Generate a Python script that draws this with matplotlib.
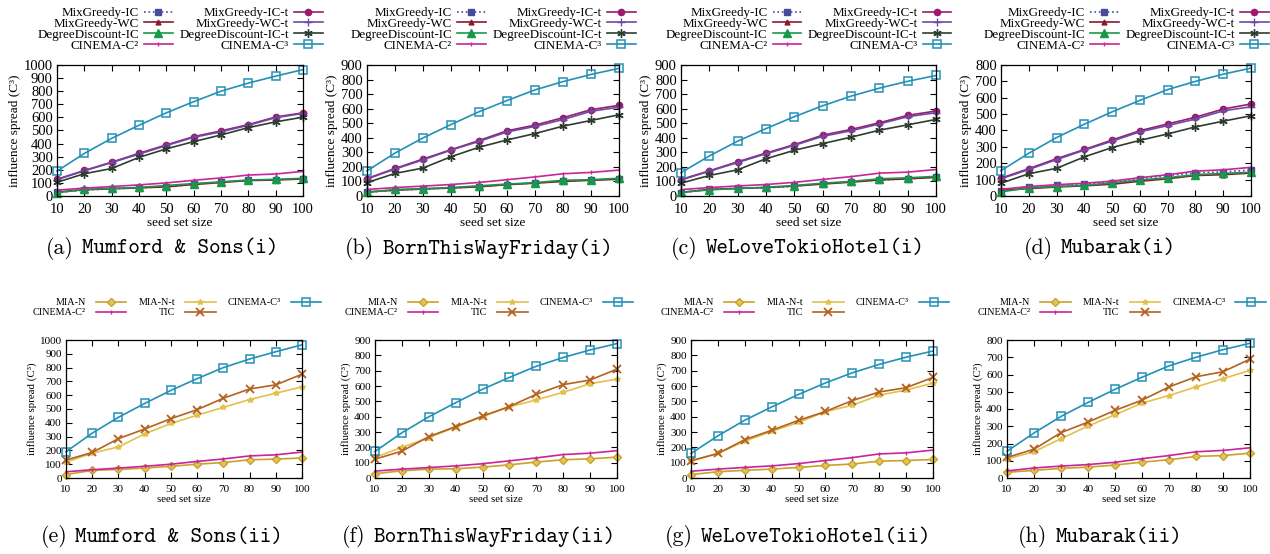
import os
import numpy as np
import matplotlib
matplotlib.use('Agg')
import matplotlib.pyplot as plt
from matplotlib.font_manager import FontProperties

plt.rcParams.update({
    'font.family': ['Liberation Serif', 'DejaVu Serif'],
    'axes.linewidth': 0.9,
    'lines.linewidth': 1.2,
})

seeds = [10, 20, 30, 40, 50, 60, 70, 80, 90, 100]

# shared CINEMA curves (same in (i) and (ii))
mumford_c2 = [45, 60, 72, 85, 100, 120, 138, 160, 168, 188]
mumford_c3 = [190, 325, 440, 540, 635, 720, 800, 862, 915, 965]
born_c2 = [45, 58, 68, 79, 93, 112, 131, 153, 162, 178]
born_c3 = [173, 295, 399, 491, 579, 656, 729, 786, 835, 877]
tokio_c2 = [44, 58, 69, 79, 94, 114, 133, 157, 164, 182]
tokio_c3 = [160, 275, 377, 463, 545, 620, 686, 741, 788, 828]
mubarak_c2 = [41, 58, 69, 78, 91, 112, 130, 152, 160, 175]
mubarak_c3 = [155, 261, 357, 438, 514, 584, 650, 700, 744, 781]

# (i) baselines
mumford_mg_ic = [28, 45, 55, 62, 72, 88, 105, 120, 125, 133]
mumford_mg_wc = [30, 48, 55, 62, 70, 88, 103, 118, 122, 130]
mumford_dd_ic = [25, 50, 58, 65, 80, 95, 108, 122, 127, 135]
mumford_mg_ic_t = [128, 195, 258, 326, 390, 453, 497, 545, 603, 635]
mumford_mg_wc_t = [125, 192, 255, 320, 385, 448, 490, 540, 598, 630]
mumford_dd_ic_t = [105, 170, 210, 295, 360, 415, 466, 522, 566, 602]

born_mg_ic = [25, 40, 48, 55, 65, 78, 90, 102, 110, 118]
born_mg_wc = [28, 40, 48, 55, 63, 78, 88, 100, 108, 115]
born_dd_ic = [25, 45, 50, 58, 70, 82, 92, 108, 112, 122]
born_mg_ic_t = [120, 189, 254, 318, 381, 448, 487, 538, 593, 623]
born_mg_wc_t = [117, 185, 248, 315, 375, 440, 478, 525, 582, 610]
born_dd_ic_t = [92, 155, 192, 270, 335, 385, 429, 480, 519, 558]

tokio_mg_ic = [22, 48, 52, 55, 68, 85, 98, 110, 118, 130]
tokio_mg_wc = [25, 45, 52, 58, 68, 82, 95, 110, 118, 128]
tokio_dd_ic = [25, 42, 52, 60, 72, 88, 100, 118, 125, 135]
tokio_mg_ic_t = [113, 173, 235, 295, 353, 418, 457, 503, 554, 584]
tokio_mg_wc_t = [110, 170, 230, 290, 348, 410, 448, 495, 545, 572]
tokio_dd_ic_t = [88, 141, 180, 256, 314, 360, 404, 452, 489, 526]

mubarak_mg_ic = [30, 52, 65, 75, 82, 105, 125, 140, 148, 158]
mubarak_mg_wc = [35, 45, 55, 62, 72, 90, 105, 125, 130, 140]
mubarak_dd_ic = [25, 50, 58, 65, 80, 98, 112, 130, 138, 145]
mubarak_mg_ic_t = [109, 167, 228, 284, 342, 399, 440, 481, 531, 562]
mubarak_mg_wc_t = [105, 162, 222, 280, 335, 392, 430, 470, 520, 545]
mubarak_dd_ic_t = [78, 136, 169, 239, 296, 340, 379, 422, 457, 490]

# (ii) baselines
mumford_mia = [25, 55, 62, 72, 85, 100, 112, 132, 137, 145]
mumford_mia_t = [115, 180, 225, 320, 395, 455, 512, 568, 615, 660]
mumford_tic = [130, 185, 285, 355, 430, 495, 578, 645, 675, 752]

born_mia = [28, 47, 58, 60, 71, 86, 104, 119, 125, 136]
born_mia_t = [134, 200, 263, 332, 401, 464, 509, 559, 615, 645]
born_tic = [123, 175, 270, 335, 404, 466, 546, 609, 639, 710]

tokio_mia = [22, 41, 50, 58, 69, 82, 91, 110, 114, 121]
tokio_mia_t = [112, 160, 240, 304, 363, 432, 475, 540, 574, 619]
tokio_tic = [112, 160, 250, 311, 376, 434, 505, 561, 589, 656]

mubarak_mia = [33, 44, 56, 63, 75, 92, 106, 125, 130, 144]
mubarak_mia_t = [111, 152, 228, 301, 367, 434, 478, 528, 576, 624]
mubarak_tic = [119, 167, 263, 324, 392, 451, 528, 587, 616, 689]

names = ['Mumford & Sons', 'BornThisWayFriday', 'WeLoveTokioHotel', 'Mubarak']
ymaxs = [1000, 900, 900, 800]

top_data = [
    [mumford_mg_ic, mumford_mg_wc, mumford_dd_ic, mumford_c2,
     mumford_mg_ic_t, mumford_mg_wc_t, mumford_dd_ic_t, mumford_c3],
    [born_mg_ic, born_mg_wc, born_dd_ic, born_c2,
     born_mg_ic_t, born_mg_wc_t, born_dd_ic_t, born_c3],
    [tokio_mg_ic, tokio_mg_wc, tokio_dd_ic, tokio_c2,
     tokio_mg_ic_t, tokio_mg_wc_t, tokio_dd_ic_t, tokio_c3],
    [mubarak_mg_ic, mubarak_mg_wc, mubarak_dd_ic, mubarak_c2,
     mubarak_mg_ic_t, mubarak_mg_wc_t, mubarak_dd_ic_t, mubarak_c3],
]
bottom_data = [
    [mumford_mia, mumford_c2, mumford_mia_t, mumford_tic, mumford_c3],
    [born_mia, born_c2, born_mia_t, born_tic, born_c3],
    [tokio_mia, tokio_c2, tokio_mia_t, tokio_tic, tokio_c3],
    [mubarak_mia, mubarak_c2, mubarak_mia_t, mubarak_tic, mubarak_c3],
]

C2_COL = '#c8249c'
C3_COL = '#2390b6'
top_styles = [
    ('MixGreedy-IC', dict(color='#4a4a9c', ls=':', marker='s', ms=4.5)),
    ('MixGreedy-WC', dict(color='#8b1a2e', marker='^', ms=3.5)),
    ('DegreeDiscount-IC', dict(color='#16994a', marker='^', ms=5.5)),
    ('CINEMA-C²', dict(color=C2_COL, marker='|', ms=3)),
    ('MixGreedy-IC-t', dict(color='#9a1a6e', marker='o', ms=4.5)),
    ('MixGreedy-WC-t', dict(color='#6f4aa5', marker='+', ms=6)),
    ('DegreeDiscount-IC-t', dict(color='#2e3d30', marker=(6, 2, 0), ms=6)),
    ('CINEMA-C³', dict(color=C3_COL, marker='s', ms=6, mfc='none', mew=1.1)),
]
bottom_styles = [
    ('MIA-N', dict(color='#c9a227', marker='D', ms=4, mfc='#e2c55a')),
    ('CINEMA-C²', dict(color=C2_COL, marker='|', ms=3)),
    ('MIA-N-t', dict(color='#e3c04a', marker='*', ms=4)),
    ('TIC', dict(color='#b3621f', marker='x', ms=5.5, mew=1.3)),
    ('CINEMA-C³', dict(color=C3_COL, marker='s', ms=6, mfc='none', mew=1.1)),
]

W, H = 1270, 554
fig = plt.figure(figsize=(W / 100, H / 100), dpi=100)
renderer = fig.canvas.get_renderer()

ttf_dir = os.path.join(matplotlib.get_data_path(), 'fonts', 'ttf')
roman_fp = FontProperties(fname=os.path.join(ttf_dir, 'cmr10.ttf'), size=15.8)
tt_fp = FontProperties(fname=os.path.join(ttf_dir, 'cmtt10.ttf'), size=15.8)

top_boxes = [(57, 303), (367, 619), (681, 936), (1001, 1251)]
bot_boxes = [(66, 302), (375, 617), (691, 933), (1007, 1250)]
cap_x = [162, 479, 798, 1100]
letters_top = 'abcd'
letters_bot = 'efgh'


def setup(ax, ymax, tick_fs, lab_fs):
    ax.set_xlim(10, 100)
    ax.set_ylim(0, ymax)
    ax.set_xticks(seeds)
    ax.set_yticks(np.arange(0, ymax + 1, 100))
    ax.tick_params(direction='in', top=True, right=True, length=4,
                   width=0.8, labelsize=tick_fs, pad=3)
    ax.tick_params(axis='x', pad=5)
    ax.set_xlabel('seed set size', fontsize=lab_fs, labelpad=1)
    ax.set_ylabel('influence spread (C³)', fontsize=lab_fs, labelpad=2)


def caption(xc, yc, letter, name, suffix):
    # "(a)" in roman, dataset name in typewriter, centred together
    t1 = fig.text(0, 1 - yc / H, '(%s)' % letter, ha='left',
                  va='center', fontproperties=roman_fp)
    t2 = fig.text(0, 1 - yc / H, '%s(%s)' % (name, suffix), ha='left',
                  va='center', fontproperties=tt_fp)
    w1 = t1.get_window_extent(renderer).width
    w2 = t2.get_window_extent(renderer).width
    gap = 8
    x0 = xc - (w1 + gap + w2) / 2
    t1.set_x(x0 / W)
    t2.set_x((x0 + w1 + gap) / W)


for i in range(4):
    l, r = top_boxes[i]
    ax = fig.add_axes([l / W, 1 - 196 / H, (r - l) / W, 131 / H])
    for (label, st), ys in zip(top_styles, top_data[i]):
        ax.plot(seeds, ys, label=label, clip_on=False, **st)
    setup(ax, ymaxs[i], 10.5, 9.5)
    cx = (l + r) / 2
    ax.legend(loc='upper center', bbox_to_anchor=(cx / W, 1 - 7 / H),
              bbox_transform=fig.transFigure, ncol=2, markerfirst=False,
              frameon=False, fontsize=9.4, handlelength=2.2,
              handletextpad=0.4, columnspacing=0.5, labelspacing=-0.1,
              borderpad=0, borderaxespad=0)
    caption(cap_x[i], 249, letters_top[i], names[i], 'i')

for i in range(4):
    l, r = bot_boxes[i]
    ax = fig.add_axes([l / W, 1 - 478 / H, (r - l) / W, 138 / H])
    for (label, st), ys in zip(bottom_styles, bottom_data[i]):
        ax.plot(seeds, ys, label=label, clip_on=False, **st)
    setup(ax, ymaxs[i], 8, 7.8)
    cx = (l + r) / 2 - 7
    ax.legend(loc='upper center', bbox_to_anchor=(cx / W, 1 - 298 / H),
              bbox_transform=fig.transFigure, ncol=3, markerfirst=False,
              frameon=False, fontsize=7.3, handlelength=3.0,
              handletextpad=1.0, columnspacing=1.2, labelspacing=0.1,
              borderpad=0, borderaxespad=0)
    caption(cap_x[i], 537, letters_bot[i], names[i], 'ii')

fig.savefig('out.png', dpi=100)
